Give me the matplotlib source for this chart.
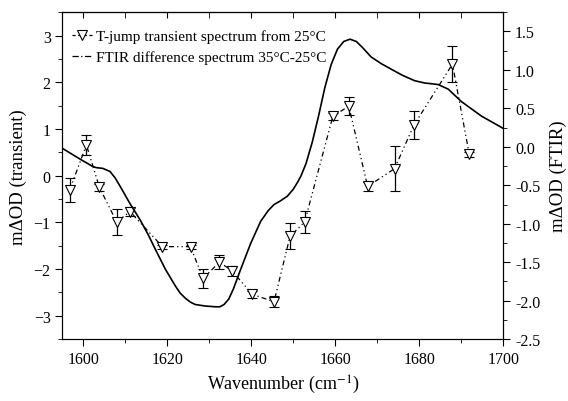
import matplotlib
matplotlib.use("Agg")
import matplotlib.pyplot as plt
from matplotlib.lines import Line2D
from matplotlib.ticker import MultipleLocator

plt.rcParams['font.family'] = ['Liberation Serif', 'DejaVu Serif']
plt.rcParams['mathtext.fontset'] = 'stix'

# T-jump transient spectrum (left axis)
tj_x = [1596.7, 1600.7, 1603.8, 1607.9, 1611.1, 1618.8, 1625.5, 1628.5, 1632.4, 1635.4,
        1640.2, 1645.4, 1649.2, 1652.7, 1659.4, 1663.2, 1667.7, 1674.1, 1678.7, 1687.9, 1691.9]
tj_y = [-0.31, 0.66, -0.25, -0.99, -0.77, -1.52, -1.52, -2.20, -1.85, -2.04,
        -2.54, -2.70, -1.30, -0.99, 1.27, 1.49, -0.23, 0.15, 1.08, 2.39, 0.46]
tj_err = [0.25, 0.21, 0.08, 0.28, 0.10, 0.04, 0.04, 0.20, 0.15, 0.10,
          0.08, 0.12, 0.28, 0.23, 0.08, 0.20, 0.10, 0.48, 0.30, 0.39, 0.05]

# FTIR difference spectrum (right axis)
ft_x = [1595.0, 1596.5, 1598.0, 1599.5, 1600.8, 1602.0, 1603.0, 1604.6, 1606.3, 1607.5,
        1608.7, 1611.1, 1613.5, 1615.4, 1617.1, 1619.5, 1621.9, 1623.0, 1624.3, 1625.5,
        1626.6, 1629.0, 1631.5, 1632.5, 1633.5, 1634.6, 1635.7, 1637.4, 1639.8, 1642.2,
        1644.0, 1645.4, 1647.0, 1648.6, 1650.0, 1651.0, 1651.8, 1653.0, 1654.5, 1656.0,
        1657.5, 1659.0, 1660.5, 1662.0, 1663.5, 1665.0, 1666.5, 1668.5, 1671.0, 1673.3,
        1676.0, 1678.9, 1681.3, 1683.0, 1684.5, 1686.9, 1690.0, 1694.8, 1700.0]
ft_y = [-0.02, -0.07, -0.12, -0.17, -0.21, -0.25, -0.27, -0.28, -0.32, -0.40,
        -0.51, -0.74, -0.95, -1.14, -1.33, -1.59, -1.81, -1.90, -1.97, -2.02,
        -2.05, -2.07, -2.08, -2.08, -2.05, -1.98, -1.85, -1.60, -1.26, -0.97,
        -0.83, -0.75, -0.70, -0.64, -0.55, -0.46, -0.38, -0.22, 0.06, 0.40,
        0.77, 1.07, 1.27, 1.37, 1.40, 1.37, 1.29, 1.17, 1.08, 1.01,
        0.93, 0.86, 0.83, 0.82, 0.81, 0.75, 0.59, 0.40, 0.24]

label_tj = 'T-jump transient spectrum from 25\u00b0C'
label_ft = 'FTIR difference spectrum 35\u00b0C-25\u00b0C'

fig = plt.figure(figsize=(5.68, 4.02), dpi=100)
ax = fig.add_axes([0.110, 0.154, 0.776, 0.813])
ax2 = ax.twinx()

ax.errorbar(tj_x, tj_y, yerr=tj_err, fmt='v', color='black', mfc='white', mec='black',
            ms=7, mew=0.8, ecolor='black', elinewidth=0.9, capsize=3.5, capthick=0.9,
            zorder=3)
ax.plot(tj_x, tj_y, color='black', lw=0.9, linestyle=(0, (4, 2.5, 1, 2.5, 1, 2.5)), zorder=2)

ax2.plot(ft_x, ft_y, color='black', lw=1.2)

ax.set_xlim(1595, 1700)
ax.set_ylim(-3.5, 3.5)
ax2.set_ylim(-2.5, 1.75)

ax.xaxis.set_major_locator(MultipleLocator(20))
ax.xaxis.set_minor_locator(MultipleLocator(10))
ax.yaxis.set_major_locator(MultipleLocator(1))
ax.yaxis.set_minor_locator(MultipleLocator(0.5))
ax2.yaxis.set_major_locator(MultipleLocator(0.5))
ax2.yaxis.set_minor_locator(MultipleLocator(0.25))
ax2.yaxis.set_major_formatter(plt.FormatStrFormatter('%.1f'))

ax.tick_params(axis='x', which='both', direction='out', top=False, labelsize=11.5)
ax.tick_params(axis='x', which='major', length=5)
ax.tick_params(axis='x', which='minor', length=3)
ax.tick_params(axis='y', which='major', direction='out', length=5, labelsize=11.5)
ax.tick_params(axis='y', which='minor', direction='out', length=3)
ax2.tick_params(axis='y', which='major', direction='out', length=5, labelsize=11.5)
ax2.tick_params(axis='y', which='minor', direction='out', length=3)

top = ax.secondary_xaxis('top')
top.xaxis.set_major_locator(MultipleLocator(20))
top.xaxis.set_minor_locator(MultipleLocator(10))
top.tick_params(axis='x', which='both', direction='in', labeltop=False, length=4.5)

ax.set_xlabel('Wavenumber (cm$^{-1}$)', fontsize=13)
ax.set_ylabel('m\u0394OD (transient)', fontsize=13.5, labelpad=5)
ax2.set_ylabel('m\u0394OD (FTIR)', fontsize=13.5, labelpad=7)

h1 = Line2D([], [], color='black', lw=0.9, linestyle=(0, (2.5, 2)), marker='v',
            mfc='white', mec='black', ms=7, mew=0.8)
h2 = Line2D([], [], color='black', lw=0.9, linestyle=(0, (5, 2, 1, 2)))
ax.legend([h1, h2], [label_tj, label_ft], loc='upper left', frameon=False,
          fontsize=11, handlelength=1.3, handletextpad=0.3, borderaxespad=0.2,
          labelspacing=0.45, bbox_to_anchor=(0.0, 0.975))

fig.savefig('out.png', dpi=100)
